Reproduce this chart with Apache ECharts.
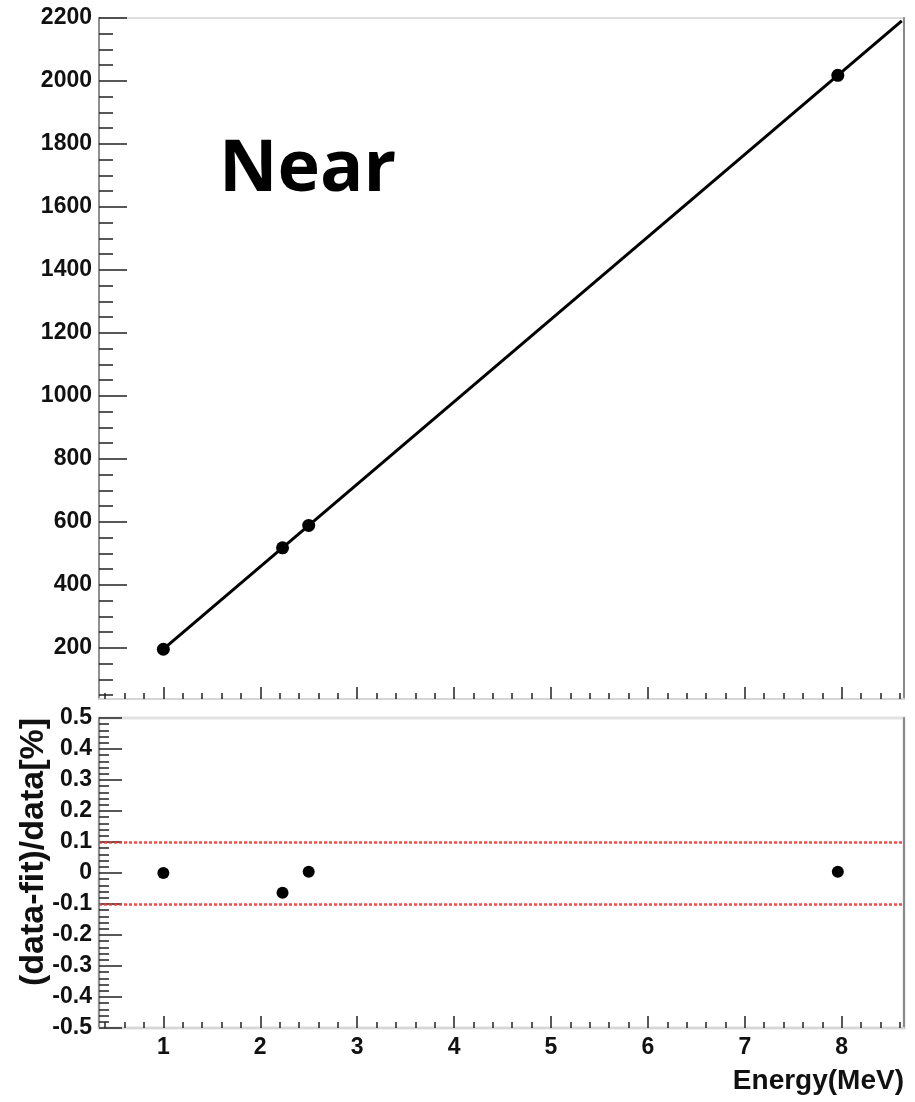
<!DOCTYPE html>
<html>
<head>
<meta charset="utf-8">
<title>Near – energy calibration</title>
<script src="https://cdn.jsdelivr.net/npm/echarts@6/dist/echarts.min.js"></script>
<style>
  html, body { margin: 0; padding: 0; background: #ffffff; }
  #chart { width: 915px; height: 1102px; }
</style>
</head>
<body>
<div id="chart"></div>
<script>
// Calibration points: visible energy (MeV) versus reconstructed charge
const energies = [1.0, 2.23, 2.5, 7.96];
const peValues = [196, 518, 589, 2018];

// Relative residuals (data-fit)/data in percent
const residuals = [0.0, -0.064, 0.004, 0.004];

// Linear fit parameters and the range it is drawn over
const fitSlope = 261.8;
const fitIntercept = -65.8;
const fitRange = [1.0, 8.62];

// Tolerance band drawn on the residual panel
const toleranceBand = [0.1, -0.1];

// Axis ranges and tick labels
const xRange = [0.336, 8.643];
const xTickLabels = [1, 2, 3, 4, 5, 6, 7, 8];
const yTopRange = [38, 2200];
const yTopTickLabels = [200, 400, 600, 800, 1000, 1200, 1400, 1600, 1800, 2000, 2200];
const yBottomRange = [-0.5, 0.5];
const yBottomTickLabels = [-0.5, -0.4, -0.3, -0.2, -0.1, 0, 0.1, 0.2, 0.3, 0.4, 0.5];

// Minor tick positions between the labelled ticks
function steps(from, to, step) {
  const out = [];
  const n = Math.round((to - from) / step);
  for (let i = 0; i <= n; i++) out.push(+(from + i * step).toFixed(4));
  return out;
}
const xMinorTicks = steps(0.4, 8.6, 0.2);
const yTopMinorTicks = steps(50, 2150, 50);
const yBottomMinorTicks = steps(-0.48, 0.48, 0.02);

const FONT = "'Liberation Sans', Arial, Helvetica, sans-serif";
const tickColor = '#222';

const fitLine = fitRange.map(e => [e, fitIntercept + fitSlope * e]);
const points = energies.map((e, i) => [e, peValues[i]]);
const resPoints = energies.map((e, i) => [e, residuals[i]]);

function hiddenBits() {
  return { splitLine: { show: false }, axisPointer: { show: false } };
}

function xMajor(gridIndex, showLabels) {
  return Object.assign({
    type: 'value', gridIndex, position: 'bottom',
    min: xRange[0], max: xRange[1],
    axisLine: { show: true, onZero: false, lineStyle: { color: '#d6d6d6', width: 2 } },
    axisTick: { show: true, inside: true, length: 12, customValues: xTickLabels,
                lineStyle: { color: tickColor, width: 1.5 } },
    axisLabel: { show: showLabels, customValues: xTickLabels, margin: 8,
                 fontFamily: FONT, fontWeight: 'bold', fontSize: 23, color: '#111' }
  }, hiddenBits());
}
function xMinor(gridIndex) {
  return Object.assign({
    type: 'value', gridIndex, position: 'bottom',
    min: xRange[0], max: xRange[1],
    axisLine: { show: false, onZero: false },
    axisTick: { show: true, inside: true, length: 6, customValues: xMinorTicks,
                lineStyle: { color: tickColor, width: 1.5 } },
    axisLabel: { show: false }
  }, hiddenBits());
}
function yAxisDef(gridIndex, range, ticks, len, showLabels, lineShow, fmt, labelSize) {
  return Object.assign({
    type: 'value', gridIndex, position: 'left',
    min: range[0], max: range[1],
    axisLine: { show: lineShow, onZero: false, lineStyle: { color: '#8f8f8f', width: 2 } },
    axisTick: { show: true, inside: true, length: len, customValues: ticks,
                lineStyle: { color: tickColor, width: 1.5 } },
    axisLabel: { show: showLabels, customValues: ticks, margin: 7, formatter: fmt,
                 fontFamily: FONT, fontWeight: 'bold', fontSize: labelSize, color: '#111' }
  }, hiddenBits());
}
function yRight(gridIndex, range) {
  return Object.assign({
    type: 'value', gridIndex, position: 'right',
    min: range[0], max: range[1],
    axisLine: { show: true, onZero: false, lineStyle: { color: '#8a8a8a', width: 2 } },
    axisTick: { show: false }, axisLabel: { show: false }
  }, hiddenBits());
}

const resFormat = v => String(Math.round(v * 10) / 10);

const option = {
  animation: false,
  backgroundColor: '#ffffff',
  grid: [
    { left: 99, right: 11, top: 18, bottom: 403, show: true,
      borderColor: '#dedede', borderWidth: 2, backgroundColor: 'transparent' },
    { left: 99, right: 11, top: 718, bottom: 74, show: true,
      borderColor: '#e2e2e2', borderWidth: 3, backgroundColor: 'transparent' }
  ],
  xAxis: [xMajor(0, false), xMinor(0), xMajor(1, true), xMinor(1)],
  yAxis: [
    yAxisDef(0, yTopRange, yTopTickLabels, 28, true, true, v => String(v), 23),
    yAxisDef(0, yTopRange, yTopMinorTicks, 14, false, false, null, 23),
    yRight(0, yTopRange),
    yAxisDef(1, yBottomRange, yBottomTickLabels, 23, true, true, resFormat, 23),
    yAxisDef(1, yBottomRange, yBottomMinorTicks, 10, false, false, null, 23),
    yRight(1, yBottomRange)
  ],
  series: [
    {
      name: 'fit', type: 'line', xAxisIndex: 0, yAxisIndex: 0,
      data: fitLine, showSymbol: false, symbol: 'none',
      lineStyle: { color: '#000', width: 3 }, z: 3
    },
    {
      name: 'data', type: 'scatter', xAxisIndex: 0, yAxisIndex: 0,
      data: points, symbol: 'circle', symbolSize: 13,
      itemStyle: { color: '#000', opacity: 1 }, z: 4
    },
    {
      name: 'residual', type: 'scatter', xAxisIndex: 2, yAxisIndex: 3,
      data: resPoints, symbol: 'circle', symbolSize: 12,
      itemStyle: { color: '#000', opacity: 1 }, z: 4,
      markLine: {
        silent: true, symbol: ['none', 'none'], label: { show: false },
        lineStyle: { color: '#f03a36', width: 2.5, type: [3, 2], opacity: 0.9 },
        data: toleranceBand.map(v => ({ yAxis: v }))
      }
    }
  ],
  graphic: [
    {
      type: 'text', left: 219, top: 134, z: 10,
      style: { text: 'Near', font: "bold 72px 'Open Sans', 'Noto Sans', sans-serif", fill: '#000' }
    },
    {
      type: 'text', x: 34, y: 852, rotation: Math.PI / 2, z: 10,
      style: {
        text: '(data-fit)/data[%]', font: "bold 34px " + FONT, fill: '#111',
        align: 'center', verticalAlign: 'middle',
        textAlign: 'center', textVerticalAlign: 'middle'
      }
    },
    {
      type: 'text', x: 904, y: 1081, z: 10,
      style: {
        text: 'Energy(MeV)', font: "bold 28px " + FONT, fill: '#111',
        align: 'right', verticalAlign: 'middle',
        textAlign: 'right', textVerticalAlign: 'middle'
      }
    }
  ]
};

const chart = echarts.init(document.getElementById('chart'), null, { renderer: 'canvas' });
chart.setOption(option);
</script>
</body>
</html>
